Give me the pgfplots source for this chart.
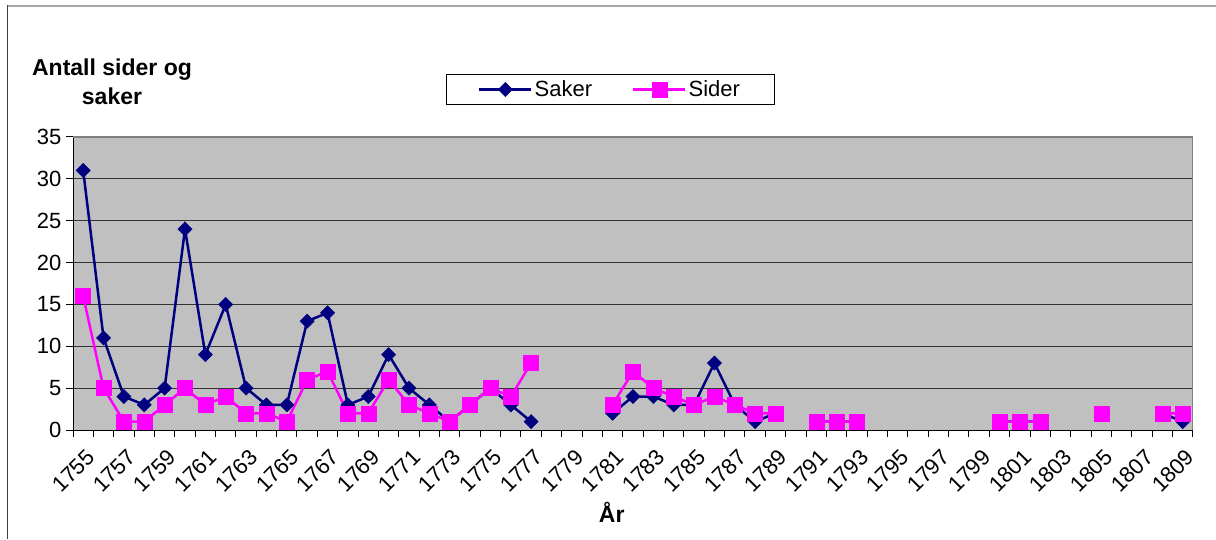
\documentclass[border=0pt]{standalone}
\usepackage{pgfplots}
\pgfplotsset{compat=1.18}
\usepackage{fontspec}
\setmainfont{Liberation Sans}
\definecolor{saker}{RGB}{0,0,128}
\definecolor{sider}{RGB}{255,0,255}
\definecolor{plotbg}{RGB}{192,192,192}
\begin{document}
\begin{tikzpicture}
\useasboundingbox (0pt,0pt) rectangle (1216pt,539pt);
\draw[black!35, line width=2.5pt] (7pt,533pt) -- (1216pt,533pt);
\draw[black!75, line width=1.2pt] (7.5pt,0pt) -- (7.5pt,534pt);
\node[font=\fontsize{23}{29}\selectfont\bfseries, align=center] at (112pt,457pt) {Antall sider og\\saker};
\begin{axis}[
  at={(73pt,109pt)}, anchor=south west,
  scale only axis, width=1120pt, height=293pt,
  xmin=1754.5, xmax=1809.5, ymin=0, ymax=35,
  axis background/.style={fill=plotbg},
  axis x line*=bottom, axis y line*=left,
  axis line style={black, line width=1pt},
  ymajorgrids, major grid style={black!80, line width=1pt},
  ytick={0,5,...,35},
  xtick={1754.5,1755.5,...,1809.5},
  xticklabels={},
  extra x ticks={1755,1757,...,1809},
  extra x tick labels={1755,1757,1759,1761,1763,1765,1767,1769,1771,1773,1775,1777,1779,1781,1783,1785,1787,1789,1791,1793,1795,1797,1799,1801,1803,1805,1807,1809},
  extra x tick style={major tick length=0pt, grid=none},
  tick align=outside, major tick length=7pt,
  tick style={black, line width=1pt},
  /pgf/number format/assume math mode=true,
  /pgf/number format/1000 sep={},
  tick label style={font=\fontsize{22}{26}\selectfont},
  xticklabel style={xshift=10pt, yshift=-21pt, rotate=45, anchor=east},
  yticklabel style={xshift=-1pt},
  xlabel={År},
  xlabel style={font=\fontsize{23}{27}\selectfont\bfseries, at={(axis description cs:0.481,-0.28)}, anchor=center},
  unbounded coords=jump,
  legend columns=2,
  legend style={at={(axis description cs:0.4795,1.162)}, anchor=center, draw=black, line width=0.8pt, fill=white,
    font=\fontsize{22}{26}\selectfont, inner xsep=32pt, inner ysep=4pt,
    /tikz/every even column/.append style={column sep=38pt}},
  legend image code/.code={\draw[mark repeat=2,mark phase=2,#1] plot coordinates {(0pt,0pt) (26pt,0pt) (52pt,0pt)};},
]
\addplot[saker, line width=2.5pt, mark=square*, mark size=5pt, mark options={solid, rotate=45, fill=saker, line width=0.5pt}] coordinates {
(1755,31)(1756,11)(1757,4)(1758,3)(1759,5)(1760,24)(1761,9)(1762,15)(1763,5)(1764,3)(1765,3)(1766,13)(1767,14)(1768,3)(1769,4)(1770,9)(1771,5)(1772,3)(1773,1)(1774,3)(1775,5)(1776,3)(1777,1)(1778,nan)
(1781,2)(1782,4)(1783,4)(1784,3)(1785,3)(1786,8)(1787,3)(1788,1)(1789,2)(1790,nan)
(1791,1)(1792,1)(1793,1)(1794,nan)(1800,1)(1801,1)(1802,1)(1803,nan)(1805,2)(1806,nan)(1808,2)(1809,1)
};
\addlegendentry{Saker}
\addplot[sider, line width=2.5pt, mark=square*, mark size=7.5pt, mark options={solid, fill=sider, line width=0.5pt}] coordinates {
(1755,16)(1756,5)(1757,1)(1758,1)(1759,3)(1760,5)(1761,3)(1762,4)(1763,2)(1764,2)(1765,1)(1766,6)(1767,7)(1768,2)(1769,2)(1770,6)(1771,3)(1772,2)(1773,1)(1774,3)(1775,5)(1776,4)(1777,8)(1778,nan)
(1781,3)(1782,7)(1783,5)(1784,4)(1785,3)(1786,4)(1787,3)(1788,2)(1789,2)(1790,nan)
(1791,1)(1792,1)(1793,1)(1794,nan)(1800,1)(1801,1)(1802,1)(1803,nan)(1805,2)(1806,nan)(1808,2)(1809,2)
};
\addlegendentry{Sider}
\draw[black!50, line width=1.5pt] (rel axis cs:0,1) -- (rel axis cs:1,1) -- (rel axis cs:1,0);
\end{axis}
\end{tikzpicture}
\end{document}
